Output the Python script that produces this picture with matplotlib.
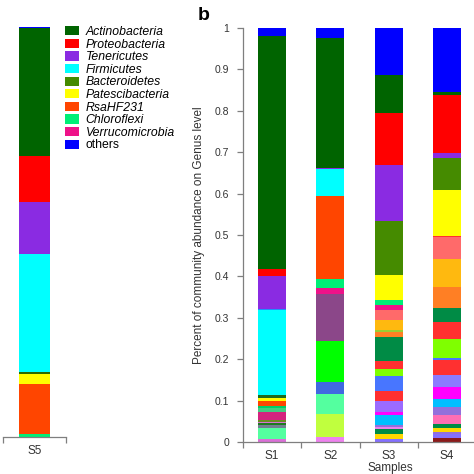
import matplotlib.pyplot as plt
from matplotlib.patches import Patch

plt.rcParams['font.family'] = ['Liberation Sans', 'DejaVu Sans']

# phylum legend (panel a)
phyla = ['Actinobacteria', 'Proteobacteria', 'Tenericutes', 'Firmicutes',
         'Bacteroidetes', 'Patescibacteria', 'RsaHF231', 'Chloroflexi',
         'Verrucomicrobia', 'others']
phylum_colors = ['#006400', '#FF0000', '#8A2BE2', '#00FFFF', '#458B00',
                 '#FFFF00', '#FF4500', '#00EE76', '#EE1289', '#0000FF']

# S5, phylum level, bottom -> top
s5_vals = [0.008, 0.122, 0.024, 0.004, 0.288, 0.127, 0.112, 0.312, 0.003]
s5_cols = ['#00EE76', '#FF4500', '#FFFF00', '#2F6B00', '#00FFFF', '#8A2BE2',
           '#FF0000', '#006400', '#0000FF']

# panel b, genus level, bottom -> top
samples = ['S1', 'S2', 'S3', 'S4']
s1_vals = [0.008, 0.027, 0.005, 0.006, 0.002, 0.006, 0.018, 0.010, 0.004,
           0.014, 0.006, 0.008, 0.204, 0.003, 0.080, 0.017, 0.562, 0.020]
s1_cols = ['#DA70D6', '#54FF9F', '#708090', '#1E7B1E', '#DA70D6', '#6B8E23',
           '#D4237F', '#43CD80', '#00CD66', '#FF4500', '#FFFF00', '#1E6B1E',
           '#00FFFF', '#1E90FF', '#8A2BE2', '#FF0000', '#006400', '#0000FF']
s2_vals = [0.011, 0.056, 0.048, 0.031, 0.097, 0.115, 0.014, 0.022, 0.199,
           0.066, 0.004, 0.313, 0.024]
s2_cols = ['#EE82EE', '#C0FF3E', '#54FF9F', '#4169E1', '#00FF00', '#8B4789',
           '#EE1289', '#00EE76', '#FF4500', '#00FFFF', '#8A2BE2', '#006400',
           '#0000FF']
s3_vals = [0.007, 0.012, 0.012, 0.005, 0.005, 0.024, 0.008, 0.027, 0.023,
           0.036, 0.018, 0.019, 0.058, 0.012, 0.005, 0.024, 0.024, 0.013,
           0.010, 0.061, 0.131, 0.135, 0.126, 0.091, 0.114]
s3_cols = ['#8470FF', '#FFD700', '#008B45', '#EE82EE', '#9370DB', '#00BFFF',
           '#FF00FF', '#9B6BFF', '#FF3030', '#4876FF', '#7FFF00', '#FF3030',
           '#008B45', '#FF7F24', '#9ACD32', '#FFB90F', '#FF6A6A', '#EE1289',
           '#00EE76', '#FFFF00', '#458B00', '#8A2BE2', '#FF0000', '#006400',
           '#0000FF']
s4_vals = [0.010, 0.010, 0.005, 0.010, 0.008, 0.022, 0.019, 0.019, 0.029,
           0.030, 0.036, 0.006, 0.046, 0.040, 0.033, 0.052, 0.066, 0.055,
           0.002, 0.111, 0.077, 0.012, 0.140, 0.007, 0.155]
s4_cols = ['#8B1A1A', '#8470FF', '#9370DB', '#FFD700', '#008B45', '#FF6EB4',
           '#9370DB', '#00BFFF', '#FF00FF', '#8B7BFF', '#FF3030', '#4876FF',
           '#7FFF00', '#FF3030', '#008B45', '#FF7F24', '#FFB90F', '#FF6A6A',
           '#FF3030', '#FFFF00', '#458B00', '#8A2BE2', '#FF0000', '#006400',
           '#0000FF']

yticks = [0, 0.1, 0.2, 0.3, 0.4, 0.5, 0.6, 0.7, 0.8, 0.9, 1]
ytick_labels = ['0', '0.1', '0.2', '0.3', '0.4', '0.5', '0.6', '0.7', '0.8', '0.9', '1']

W = H = 474
fig = plt.figure(figsize=(W / 100, H / 100), dpi=100)

axis_grey = '#7F7F7F'
text_grey = '#333333'


def stack(ax, x, vals, cols, width):
    bottom = 0
    for v, c in zip(vals, cols):
        ax.bar(x, v, width=width, bottom=bottom, color=c, linewidth=0)
        bottom += v


def style_xaxis(ax, n, labels):
    ax.set_xlim(0.5, n + 0.5)
    ax.set_ylim(0, 1)
    ax.set_xticks([i + 0.5 for i in range(n + 1)])
    ax.set_xticklabels([])
    ax.set_xticks(range(1, n + 1), minor=True)
    ax.set_xticklabels(labels, minor=True, fontsize=8.5, color=text_grey)
    ax.tick_params(axis='x', which='major', length=4, color=axis_grey, width=0.9)
    ax.tick_params(axis='x', which='minor', length=0, pad=6)
    ax.spines['bottom'].set_color(axis_grey)
    ax.spines['bottom'].set_linewidth(0.9)
    for s in ['top', 'right']:
        ax.spines[s].set_visible(False)


# panel a (cropped): S5 bar
ax_a = fig.add_axes([3 / W, (H - 437) / H, 63 / W, 410 / H])
stack(ax_a, 1, s5_vals, s5_cols, 0.48)
style_xaxis(ax_a, 1, ['S5'])
ax_a.spines['left'].set_visible(False)
ax_a.set_yticks([])

handles = [Patch(facecolor=c, edgecolor='none') for c in phylum_colors]
leg = fig.legend(handles, phyla, loc='upper left', bbox_to_anchor=(65 / W, 1 - 26 / H),
                 frameon=False, fontsize=8.8, handlelength=1.15, handleheight=0.8,
                 handletextpad=0.55, labelspacing=0.05, borderpad=0, borderaxespad=0)
for t in leg.get_texts()[:-1]:
    t.set_style('italic')

# panel b: genus level
ax_b = fig.add_axes([243 / W, (H - 442) / H, 233 / W, 414 / H])
for i, (vals, cols) in enumerate([(s1_vals, s1_cols), (s2_vals, s2_cols),
                                  (s3_vals, s3_cols), (s4_vals, s4_cols)]):
    stack(ax_b, i + 1, vals, cols, 0.48)
style_xaxis(ax_b, len(samples), samples)
ax_b.set_yticks(yticks)
ax_b.set_yticklabels(ytick_labels, fontsize=7.5, color=text_grey)
ax_b.tick_params(axis='y', length=4, color=axis_grey, width=0.9, pad=6)
ax_b.spines['left'].set_color(axis_grey)
ax_b.spines['left'].set_linewidth(0.9)
ax_b.set_ylabel('Percent of community abundance on Genus level', fontsize=8.5,
                color=text_grey)
ax_b.yaxis.set_label_coords(-38 / 233, 0.5)

fig.text(390 / W, 1 - 462 / H, 'Samples', ha='center', va='top', fontsize=8.5,
         color=text_grey)
fig.text(198 / W, 1 - 7 / H, 'b', ha='left', va='top', fontsize=14,
         fontweight='bold')

fig.savefig('out.png', dpi=100)
